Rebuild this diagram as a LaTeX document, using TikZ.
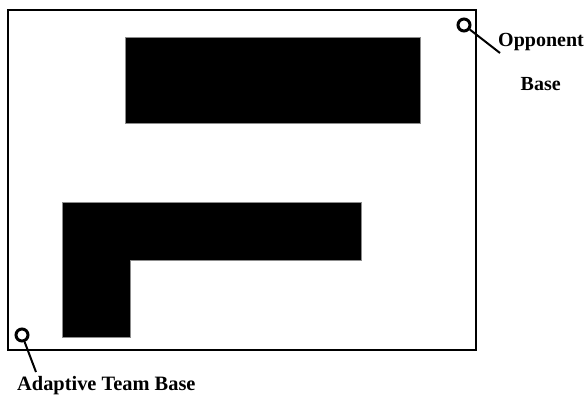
\documentclass[tikz,border=0pt]{standalone}
\usepackage{fontspec}
\setmainfont{Liberation Serif}
\begin{document}
\begin{tikzpicture}[x=1pt,y=-1pt,
  base/.style={circle,draw,line width=3pt,minimum size=12pt,inner sep=0pt},
  leader/.style={line width=2pt},
  lbl/.style={font=\bfseries\fontsize{20}{23}\selectfont,inner sep=0pt,anchor=base west},
  wall/.style={fill=black,draw=black!45,line width=0.6pt}]
\useasboundingbox (0,0) rectangle (584,397);
\draw[line width=1.6pt] (8,10) rectangle (476,350);
\draw[wall] (125,37) rectangle (420,123);
\draw[wall] (62,202) -- (361,202) -- (361,260) -- (130,260) -- (130,337) -- (62,337) -- cycle;
\node[base] (opp) at (464,25) {};
\coordinate (oppend) at (500,53);
\draw[leader] (opp) -- (oppend);
\node[lbl] (opplbl) at (498,46) {Opponent};
\node[lbl] (oppbase) at (520.5,90) {Base};
\node[base] (ada) at (22,335) {};
\coordinate (adaend) at (36,372);
\draw[leader] (ada) -- (adaend);
\node[lbl,font=\bfseries\fontsize{20.4}{23}\selectfont] (adalbl) at (17,390) {Adaptive Team Base};
\end{tikzpicture}
\end{document}
